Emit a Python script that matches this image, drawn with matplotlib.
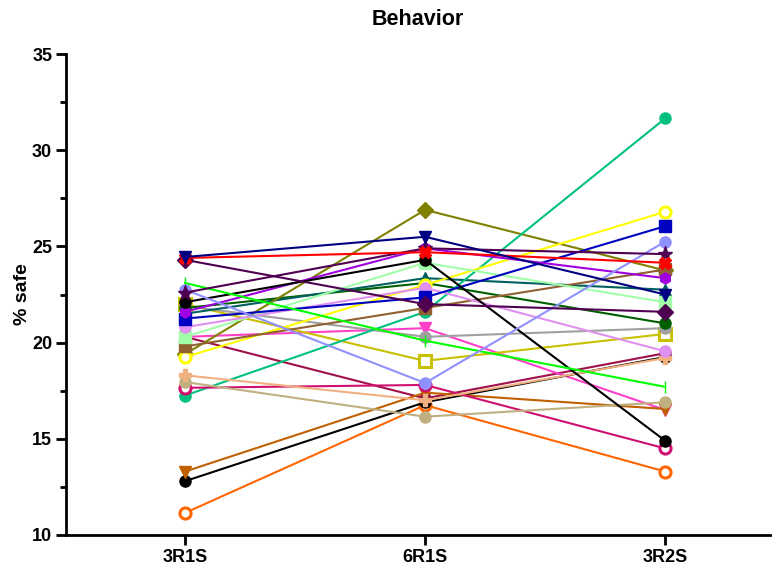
import numpy as np
import matplotlib
matplotlib.use('Agg')
import matplotlib.pyplot as plt
from matplotlib.ticker import MultipleLocator

plt.rcParams['font.family'] = ['Liberation Sans', 'DejaVu Sans']
plt.rcParams['font.weight'] = 'bold'

# conditions on the x axis
conditions = ['3R1S', '6R1S', '3R2S']

# % safe per animal (3R1S, 6R1S, 3R2S)
navy = [24.45, 25.5, 22.5]
red = [24.4, 24.7, 24.15]
plum_diamond = [24.3, 22.0, 21.6]
plum_star = [22.6, 24.9, 24.6]
periwinkle = [22.75, 17.9, 25.25]
lime = [23.1, 20.1, 17.7]
black_a = [22.1, 24.3, 14.9]
purple = [21.6, 24.9, 23.35]
blue = [21.25, 22.35, 26.05]
violet = [20.8, 22.85, 19.55]
mint = [20.3, 24.15, 22.1]
brown = [19.8, 21.8, 23.8]
yellow = [19.25, 23.0, 26.8]
peach = [18.3, 17.0, 19.2]
khaki = [17.95, 16.15, 16.9]
crimson = [17.65, 17.8, 14.5]
jade = [17.25, 21.6, 31.65]
rust = [13.3, 17.4, 16.55]
black_b = [12.8, 16.9, 19.25]
orange = [11.15, 16.75, 13.3]
olive = [19.4, 26.9, 23.75]
teal = [21.5, 23.35, 22.75]
darkgreen = [21.8, 23.1, 21.0]
grey = [21.9, 20.3, 20.75]
mustard = [22.0, 19.05, 20.45]
pink = [20.3, 20.75, 16.5]
maroon = [20.3, 17.1, 19.45]

# (values, colour, marker, filled)
series = [
    (maroon, '#a0104a', 'o', True),
    (pink, '#ff40c8', 'v', True),
    (mustard, '#c8c000', 's', False),
    (grey, '#a0a0a0', 'o', True),
    (darkgreen, '#006000', 'o', True),
    (teal, '#006060', '^', True),
    (olive, '#808000', 'D', True),
    (orange, '#ff6600', 'o', False),
    (black_b, '#000000', 'o', True),
    (rust, '#c06000', 'v', True),
    (jade, '#00c080', 'o', True),
    (crimson, '#d01070', 'o', False),
    (khaki, '#c0b080', 'o', True),
    (peach, '#f0b080', 'P', True),
    (yellow, '#ffff00', 'o', False),
    (brown, '#906030', 's', True),
    (mint, '#a0ffa8', 's', True),
    (violet, '#e090f0', 'o', True),
    (blue, '#0000c0', 's', True),
    (purple, '#a000e0', 'h', True),
    (black_a, '#000000', 'o', True),
    (lime, '#00ff00', '|', True),
    (periwinkle, '#9090ff', 'o', True),
    (plum_star, '#500050', '*', True),
    (plum_diamond, '#500050', 'D', True),
    (red, '#ff0000', 'X', True),
    (navy, '#000080', 'v', True),
]

x = np.arange(len(conditions))

fig = plt.figure(figsize=(7.74, 5.65), dpi=100)
ax = fig.add_axes([0.0853, 0.0531, 0.9097, 0.8513])

for vals, col, mk, filled in series:
    ax.plot(x, vals, color=col, lw=1.5, marker=mk, ms=8 if mk != '*' else 11,
            mfc=col if filled else 'white', mec=col, mew=2.2 if not filled else 1.0,
            clip_on=False)

ax.set_xlim(-0.496, 2.4375)
ax.set_ylim(10, 35)
ax.set_xticks(x)
ax.set_xticklabels(conditions)
ax.yaxis.set_major_locator(MultipleLocator(5))
ax.yaxis.set_minor_locator(MultipleLocator(2.5))

for s in ['top', 'right']:
    ax.spines[s].set_visible(False)
for s in ['left', 'bottom']:
    ax.spines[s].set_linewidth(2)

ax.tick_params(axis='both', which='major', width=2, length=7, labelsize=13, pad=3)
ax.tick_params(axis='y', which='minor', width=2, length=4)
ax.set_ylabel('% safe', fontsize=14, fontweight='bold', labelpad=0.5)
ax.set_title('Behavior', fontsize=15.5, fontweight='bold', pad=21)

fig.savefig('out.png', dpi=100)
